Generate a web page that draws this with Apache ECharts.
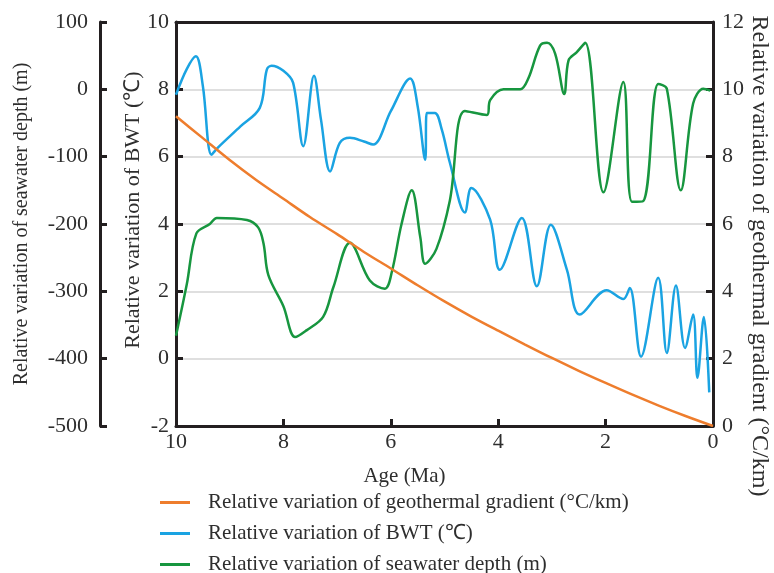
<!DOCTYPE html>
<html>
<head>
<meta charset="utf-8">
<script src="https://cdn.jsdelivr.net/npm/echarts@6/dist/echarts.min.js"></script>
<style>
  html, body { margin: 0; padding: 0; background: #fff; }
  #chart { width: 774px; height: 573px; }
</style>
</head>
<body>
<div id="chart"></div>
<script>
// age axis ticks (Ma)
const ageTicks = [10, 8, 6, 4, 2, 0];

// geothermal gradient (°C/km)
const gradAge = [10, 9.5, 9, 8.5, 8, 7.5, 7, 6.5, 6, 5.5, 5, 4.5, 4, 3.5, 3, 2.5, 2, 1.5, 1, 0.5, 0];
const gradVal = [9.2, 8.55, 7.9, 7.3, 6.75, 6.2, 5.7, 5.17, 4.68, 4.18, 3.7, 3.25, 2.83, 2.42, 2.02, 1.64, 1.28, 0.93, 0.6, 0.29, 0];

// bottom water temperature (°C)
const bwtAge = [10, 9.8, 9.63, 9.5, 9.34, 9.22, 8.8, 8.44, 8.31, 8.22, 8.0, 7.82, 7.63, 7.43, 7.3, 7.13, 6.95, 6.76, 6.5, 6.33, 6.0, 5.64, 5.5, 5.36, 5.33, 5.18, 5.05, 4.9, 4.62, 4.5, 4.15, 3.97, 3.56, 3.28, 3.02, 2.72, 2.48, 1.98, 1.67, 1.55, 1.34, 1.02, 0.86, 0.69, 0.52, 0.37, 0.29, 0.17, 0.07];
const bwtVal = [7.84, 8.6, 8.98, 8.1, 6.06, 6.27, 6.9, 7.45, 8.58, 8.7, 8.55, 8.2, 6.31, 8.4, 7.1, 5.56, 6.41, 6.56, 6.45, 6.36, 7.35, 8.32, 7.5, 5.91, 7.3, 7.3, 6.8, 5.82, 4.34, 5.07, 4.13, 2.64, 4.18, 2.15, 3.98, 2.64, 1.31, 2.03, 1.77, 2.1, 0.06, 2.4, 0.17, 2.17, 0.32, 1.31, -0.57, 1.24, -1.0];

// seawater depth (m)
const depthAge = [10, 9.8, 9.62, 9.37, 9.24, 8.68, 8.47, 8.37, 8.28, 8.0, 7.78, 7.57, 7.26, 7.07, 6.76, 6.39, 6.11, 5.98, 5.8, 5.61, 5.45, 5.36, 5.15, 4.9, 4.62, 4.21, 4.15, 3.9, 3.59, 3.44, 3.22, 3.09, 2.94, 2.77, 2.69, 2.54, 2.38, 2.04, 1.67, 1.51, 1.3, 1.02, 0.86, 0.6, 0.37, 0.18, 0.05];
const depthVal = [-366, -290, -214, -200, -191, -194, -205, -229, -276, -322, -368, -358, -338, -294, -228, -284, -296, -271, -200, -150, -220, -259, -237, -165, -32, -38, -16, 0, 0, 16, 65, 69, 53, -7, 43, 55, 69, -153, 11, -167, -166, 8, 1, -150, -21, 1, -2];

const pairs = (xs, ys) => xs.map((x, i) => [x, ys[i]]);

const AXIS = '#231f20';
const TXT = '#2e2e2e';
const FONT = 'Liberation Serif';

const chart = echarts.init(document.getElementById('chart'), null, { renderer: 'canvas' });

const yBase = {
  type: 'value',
  axisLine: { show: true, onZero: false, lineStyle: { color: AXIS, width: 3 } },
  axisTick: { show: true, inside: true, length: 7, lineStyle: { color: AXIS, width: 3 } },
  axisLabel: { color: TXT, fontFamily: FONT, fontSize: 22 },
  splitLine: { show: false },
  nameLocation: 'middle',
  nameMoveOverlap: false,
  nameTextStyle: { color: TXT, fontFamily: FONT, fontSize: 20 },
};

const option = {
  backgroundColor: '#fff',
  animation: false,
  grid: {
    left: 176, right: 61, top: 22, bottom: 147,
    outerBoundsMode: 'none',
    containLabel: false,
  },
  legend: {
    orient: 'vertical',
    left: 160,
    top: 492,
    height: 100,
    padding: 0,
    icon: 'rect',
    itemWidth: 30,
    itemHeight: 3,
    itemGap: 10,
    textStyle: { color: TXT, fontFamily: FONT, fontSize: 21, lineHeight: 20, padding: [0, 0, 0, 13] },
    data: [
      'Relative variation of geothermal gradient (°C/km)',
      'Relative variation of BWT (℃)',
      'Relative variation of seawater depth (m)',
    ],
  },
  xAxis: [
    {
      type: 'value',
      min: 0, max: 10, interval: ageTicks[0] - ageTicks[1],
      inverse: true,
      name: 'Age (Ma)',
      nameLocation: 'middle',
      nameGap: 40,
      nameTextStyle: { color: TXT, fontFamily: FONT, fontSize: 21, padding: [0, 80, 0, 0] },
      axisLine: { onZero: false, lineStyle: { color: AXIS, width: 3 } },
      axisTick: { inside: true, length: 7, lineStyle: { color: AXIS, width: 3 } },
      axisLabel: { color: TXT, fontFamily: FONT, fontSize: 22, margin: 5 },
      splitLine: { show: false },
    },
    {
      // top frame line
      type: 'value', position: 'top',
      min: 0, max: 10, inverse: true,
      axisLine: { show: true, onZero: false, lineStyle: { color: AXIS, width: 3 } },
      axisTick: { show: false },
      axisLabel: { show: false },
      splitLine: { show: false },
    },
  ],
  yAxis: [
    Object.assign({}, yBase, {
      min: -500, max: 100, interval: 100,
      position: 'left', offset: 76,
      name: 'Relative variation of seawater depth (m)',
      nameGap: 68,
      axisLabel: Object.assign({}, yBase.axisLabel, { margin: 12 }),
    }),
    Object.assign({}, yBase, {
      min: -2, max: 10, interval: 2,
      position: 'left',
      name: 'Relative variation of BWT (℃)',
      nameGap: 32,
      nameTextStyle: Object.assign({}, yBase.nameTextStyle, { fontSize: 22, padding: [0, 0, 0, 28] }),
      axisLabel: Object.assign({}, yBase.axisLabel, { margin: 7 }),
      splitLine: { show: true, lineStyle: { color: '#d4d4d4', width: 1.5 } },
    }),
    Object.assign({}, yBase, {
      min: 0, max: 12, interval: 2,
      position: 'right',
      name: 'Relative variation of geothermal gradient (°C/km)',
      nameGap: 34,
      nameRotate: -90,
      nameTextStyle: Object.assign({}, yBase.nameTextStyle, { fontSize: 24, padding: [0, 0, 0, 64] }),
      axisLabel: Object.assign({}, yBase.axisLabel, { margin: 9 }),
    }),
  ],
  series: [
    {
      name: 'Relative variation of geothermal gradient (°C/km)',
      type: 'line', yAxisIndex: 2, smooth: 0.3, showSymbol: false,
      lineStyle: { color: '#ee7d2d', width: 2.5 }, itemStyle: { color: '#ee7d2d' },
      data: pairs(gradAge, gradVal), z: 3,
    },
    {
      name: 'Relative variation of BWT (℃)',
      type: 'line', yAxisIndex: 1, smooth: 0.35, showSymbol: false,
      lineStyle: { color: '#1aa3e2', width: 2.5 }, itemStyle: { color: '#1aa3e2' },
      data: pairs(bwtAge, bwtVal), z: 2,
    },
    {
      name: 'Relative variation of seawater depth (m)',
      type: 'line', yAxisIndex: 0, smooth: 0.35, showSymbol: false,
      lineStyle: { color: '#17963f', width: 2.5 }, itemStyle: { color: '#17963f' },
      data: pairs(depthAge, depthVal), z: 2,
    },
  ],
};

chart.setOption(option);
</script>
</body>
</html>
